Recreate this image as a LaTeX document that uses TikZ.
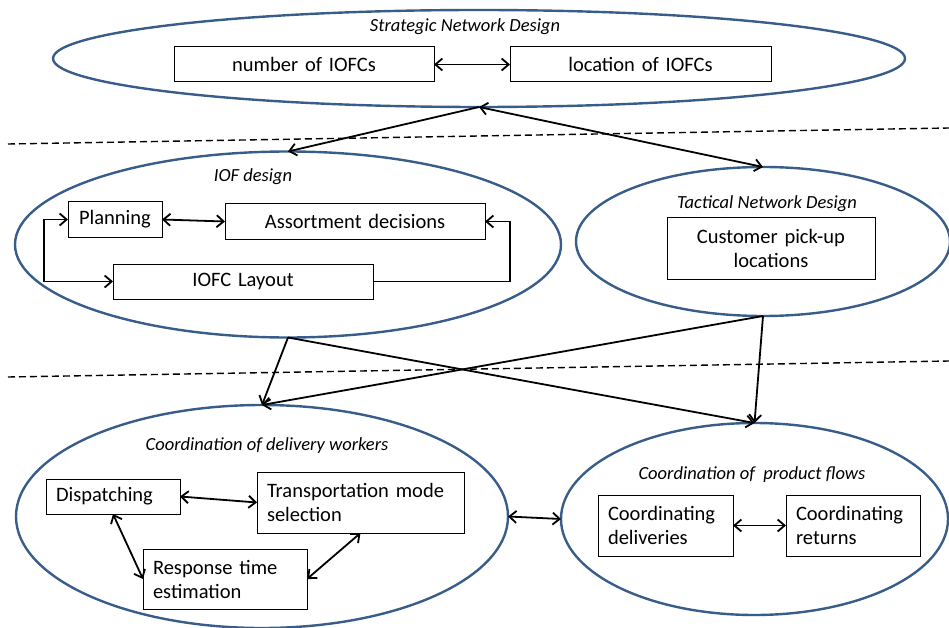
\documentclass[tikz,border=0pt]{standalone}
\usepackage{fontspec}
\setmainfont{Carlito}
\usetikzlibrary{shapes.geometric,arrows.meta}
\definecolor{bleuovale}{RGB}{56,93,138}

\tikzset{
  ovale/.style={draw=bleuovale, line width=2.4pt, ellipse, inner sep=0pt, outer sep=0pt},
  boite/.style={draw, line width=1pt, inner xsep=10pt, inner ysep=0pt, outer sep=0pt,
    font=\fontsize{20.5}{24}\selectfont},
  titre/.style={font=\fontsize{18.5}{22}\selectfont\itshape},
  fleche/.style={-{Straight Barb[length=7pt,width=12pt,line width=1.8pt]}, line width=1.8pt},
  dfleche/.style={{Straight Barb[length=7pt,width=12pt,line width=1.8pt]}-{Straight Barb[length=7pt,width=12pt,line width=1.8pt]}, line width=1.8pt},
  separation/.style={line width=1.4pt, dash pattern=on 7pt off 4pt}
}

\begin{document}
\begin{tikzpicture}[x=1pt, y=-1pt]
        % Le cadre : même taille que l'image de départ
        \useasboundingbox (0,0) rectangle (949,628);

        % Les lignes pointillées qui séparent les trois niveaux
        \draw[separation] (8,144) -- (949,128);
        \draw[separation] (8,377) -- (949,361);

        % Les ovales des cinq blocs de décision
        \node[ovale, minimum width=852pt, minimum height=97pt] (strat) at (479,58.5) {};
        \node[ovale, minimum width=546pt, minimum height=186pt] (iof) at (288,244.5) {};
        \node[ovale, minimum width=374pt, minimum height=149pt] (tact) at (763,241.5) {};
        \node[ovale, minimum width=492pt, minimum height=223pt] (livr) at (262,516.5) {};
        \node[ovale, minimum width=387pt, minimum height=192pt] (flux) at (754.5,519) {};

        % Les titres en italique
        \node[titre] (tstrat) at (465,27) {Strategic Network Design};
        \node[titre] (tiof) at (253,177) {IOF design};
        \node[titre] (ttact) at (767,204) {Tactical Network Design};
        \node[titre] (tlivr) at (267,446) {Coordination of delivery workers};
        \node[titre] (tflux) at (752,475) {Coordination of\ \ product flows};

        % Niveau stratégique
        \node[boite, text width=240pt, align=center, minimum height=35pt] (nb) at (304,64.5) {number of IOFCs};
        \node[boite, text width=241pt, align=center, minimum height=35pt] (loc) at (640.5,64.5) {location of IOFCs};
        \draw[dfleche] (nb) -- (loc);

        % Niveau tactique : conception de l'IOF
        \node[boite, text width=74pt, align=center, minimum height=35pt] (plan) at (115,219.5) {Planning};
        \node[boite, text width=240pt, align=center, minimum height=35pt] (assort) at (355,221.5) {Assortment decisions};
        \node[boite, text width=240pt, align=center, minimum height=35pt] (layout) at (243,281.5) {IOFC Layout};
        \draw[dfleche] (plan.east) -- (assort.west);
        \draw[dfleche] (plan.west) -- ++(-24,0) |- (layout.west);
        \draw[fleche] (layout.east) -- ++(137,0) |- (assort.east);

        % Niveau tactique : réseau
        \node[boite, text width=188pt, align=center, minimum height=61pt] (client) at (771,248.5) {Customer pick-up\\locations};

        % Niveau opérationnel : livreurs
        \node[boite, text width=114pt, align=left, minimum height=35pt] (disp) at (113,496.5) {Dispatching};
        \node[boite, text width=187pt, align=left, minimum height=61pt] (transp) at (360.5,502.5) {Transportation mode\\selection};
        \node[boite, text width=144pt, align=left, minimum height=60pt] (resp) at (225,579) {Response time\\estimation};
        \draw[dfleche] (disp.east) -- (transp.west);
        \draw[dfleche] (disp.south) -- (resp.west);
        \draw[dfleche] (transp.south) -- (resp.east);

        % Niveau opérationnel : flux de produits
        \node[boite, text width=115pt, align=left, minimum height=61pt] (cdel) at (665.5,525.5) {Coordinating\\deliveries};
        \node[boite, text width=114pt, align=left, minimum height=61pt] (cret) at (853,525.5) {Coordinating\\returns};
        \draw[dfleche] (cdel) -- (cret);

        % Liens entre les niveaux
        \draw[fleche] (strat.south) -- (iof.north);
        \draw[dfleche] (strat.south) -- (tact.north);
        \draw[fleche] (iof.south) -- (livr.north);
        \draw[fleche] (iof.south) -- (flux.north);
        \draw[fleche] (tact.south) -- (livr.north);
        \draw[fleche] (tact.south) -- (flux.north);
        \draw[dfleche] (livr.east) -- (flux.west);
\end{tikzpicture}
\end{document}
